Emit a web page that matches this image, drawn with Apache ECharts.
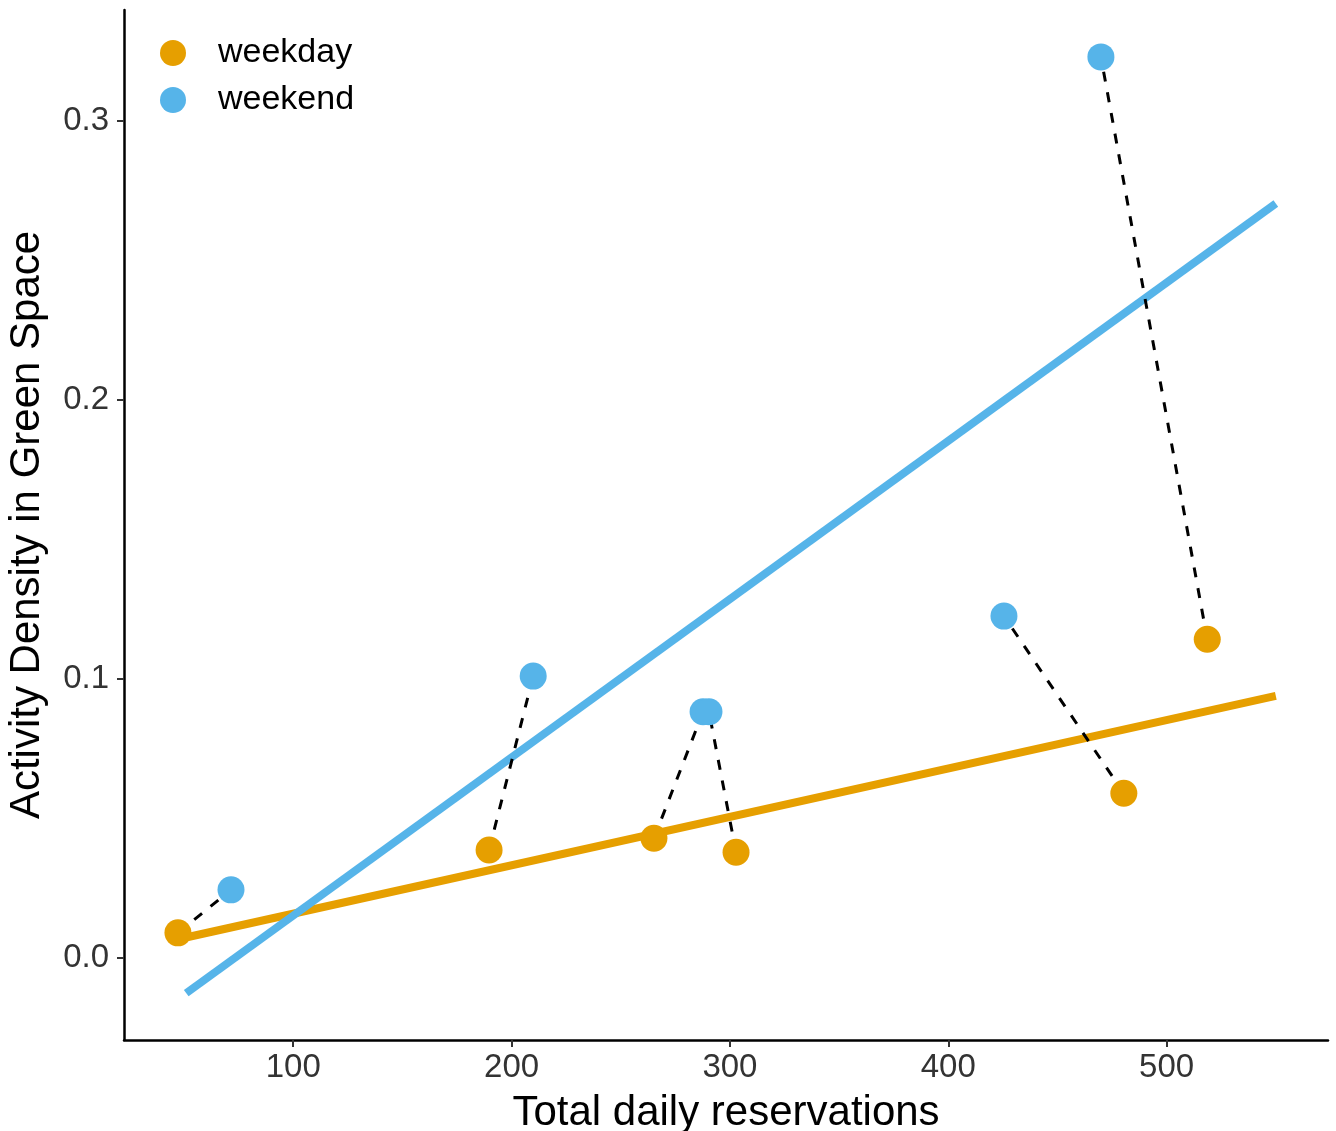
<!DOCTYPE html>
<html>
<head>
<meta charset="utf-8">
<script src="https://cdn.jsdelivr.net/npm/echarts@6/dist/echarts.min.js"></script>
<style>
    html, body { margin: 0; padding: 0; background: #fff; }
    #chart { width: 1336px; height: 1131px; }
</style>
</head>
<body>
<div id="chart"></div>
<script>
    // values
    var weekdayX = [47.2, 189.7, 265.2, 302.8, 480.4, 518.6];
    var weekdayY = [0.0091, 0.0388, 0.0430, 0.0380, 0.0591, 0.1143];
    var weekendX = [71.5, 209.9, 287.7, 290.4, 425.5, 469.9];
    var weekendY = [0.0245, 0.1011, 0.0883, 0.0883, 0.1226, 0.3230];
    // fitted lines, end points
    var weekdayFitX = [47.2, 550];
    var weekdayFitY = [0.0068, 0.0940];
    var weekendFitX = [51, 550];
    var weekendFitY = [-0.0125, 0.2705];
    var xTicks = [100, 200, 300, 400, 500];
    var yTicks = [0, 0.1, 0.2, 0.3];

    var orange = '#E69F00';
    var blue = '#56B4E9';
    var font = 'Liberation Sans, Arial, sans-serif';

    function zip(xs, ys) {
        return xs.map(function (x, i) { return [x, ys[i]]; });
    }

    var series = [];
    series.push({
        name: 'weekdayFit', type: 'line', data: zip(weekdayFitX, weekdayFitY),
        symbol: 'none', silent: true, z: 1,
        lineStyle: { color: orange, width: 8, cap: 'butt' }
    });
    series.push({
        name: 'weekendFit', type: 'line', data: zip(weekendFitX, weekendFitY),
        symbol: 'none', silent: true, z: 2,
        lineStyle: { color: blue, width: 8, cap: 'butt' }
    });
    // dashed pair links
    weekdayX.forEach(function (x, i) {
        series.push({
            name: 'pair' + i, type: 'line', symbol: 'none', silent: true, z: 3,
            data: [[weekdayX[i], weekdayY[i]], [weekendX[i], weekendY[i]]],
            lineStyle: { color: '#000', width: 3, type: [10, 11] }
        });
    });
    series.push({
        name: 'weekday', type: 'scatter', data: zip(weekdayX, weekdayY),
        symbolSize: 27, z: 5, itemStyle: { color: orange, opacity: 1 }
    });
    series.push({
        name: 'weekend', type: 'scatter', data: zip(weekendX, weekendY),
        symbolSize: 27, z: 5, itemStyle: { color: blue, opacity: 1 }
    });

    var option = {
        animation: false,
        backgroundColor: '#fff',
        textStyle: { fontFamily: font },
        grid: { left: 124, top: 10, right: 8, bottom: 91, containLabel: false, outerBoundsMode: 'none' },
        legend: {
            data: ['weekday', 'weekend'],
            orient: 'vertical',
            left: 155, top: 31,
            itemWidth: 26, itemHeight: 26, itemGap: 13,
            icon: 'circle',
            textStyle: { fontSize: 34, color: '#000', fontFamily: font, padding: [0, 0, 0, 27] }
        },
        xAxis: {
            type: 'value',
            min: 22.5, max: 573.9,
            name: 'Total daily reservations',
            nameLocation: 'middle',
            nameGap: 52,
            nameTextStyle: { fontSize: 42, color: '#000', fontFamily: font },
            splitLine: { show: false },
            axisLine: { onZero: false, lineStyle: { color: '#000', width: 2.5 } },
            axisTick: { customValues: xTicks, length: 7, lineStyle: { color: '#333', width: 2 } },
            axisLabel: { customValues: xTicks, fontSize: 33, color: '#333', margin: 11, fontFamily: font }
        },
        yAxis: {
            type: 'value',
            min: -0.0293, max: 0.3398,
            name: 'Activity Density in Green Space',
            nameLocation: 'middle',
            nameGap: 76,
            nameTextStyle: { fontSize: 42, color: '#000', fontFamily: font },
            splitLine: { show: false },
            axisLine: { show: true, onZero: false, lineStyle: { color: '#000', width: 2.5 } },
            axisTick: { show: true, customValues: yTicks, length: 7, lineStyle: { color: '#333', width: 2 } },
            axisLabel: {
                customValues: yTicks, fontSize: 33, color: '#333', margin: 15, fontFamily: font,
                formatter: function (v) { return v.toFixed(1); }
            }
        },
        series: series
    };

    var chart = echarts.init(document.getElementById('chart'));
    chart.setOption(option);
</script>
</body>
</html>
